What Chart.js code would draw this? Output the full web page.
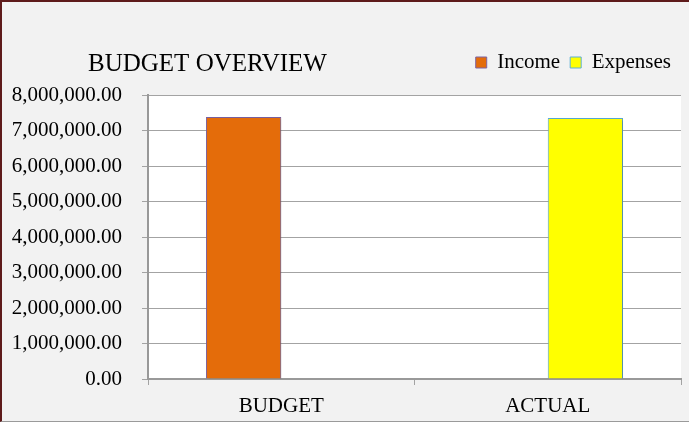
<!DOCTYPE html>
<html>
<head>
<meta charset="utf-8">
<script src="https://cdn.jsdelivr.net/npm/chart.js@4"></script>
<style>
  html, body { margin: 0; padding: 0; background: #f2f2f2; }
  #wrap { position: relative; width: 689px; height: 422px; }
  #frame {
    position: absolute; left: 0; top: 0; right: 0; bottom: 0;
    border-top: 2px solid #5e1b1b; border-left: 2px solid #5e1b1b;
    border-bottom: 1px solid #9a9a9a;
    pointer-events: none;
  }
</style>
</head>
<body>
<div id="wrap">
  <canvas id="grafico" width="689" height="422"></canvas>
  <div id="frame"></div>
</div>
<script>
// budget overview data
const categorias = ["BUDGET", "ACTUAL"];
const receitas = [7380000, null];
const despesas = [null, 7350000];
const yMin = 0;
const yMax = 8000000;
const yPasso = 1000000;

const fonte = "'Liberation Serif', 'Times New Roman', serif";
const corGrade = "#a3a3a3";

// white fill behind the plotting area
const fundoArea = {
  id: "fundoArea",
  beforeDraw(chart) {
    const { ctx, chartArea: a } = chart;
    ctx.save();
    ctx.fillStyle = "#ffffff";
    ctx.fillRect(a.left, a.top, a.right - a.left, a.bottom - a.top);
    ctx.restore();
  }
};

// push the title in from the left edge
const recuoTitulo = {
  id: "recuoTitulo",
  afterLayout(chart) {
    if (chart.titleBlock) chart.titleBlock.left = 88;
  }
};

// soft shadow under the bars
const sombraBarras = {
  id: "sombraBarras",
  beforeDatasetsDraw(chart) {
    const c = chart.ctx;
    c.save();
    c.shadowColor = "rgba(0,0,0,0.22)";
    c.shadowBlur = 3;
    c.shadowOffsetX = 1.5;
    c.shadowOffsetY = 1;
  },
  afterDatasetsDraw(chart) {
    chart.ctx.restore();
  }
};

const ctx = document.getElementById("grafico").getContext("2d");

new Chart(ctx, {
  type: "bar",
  data: {
    labels: categorias,
    datasets: [
      {
        label: "Income",
        data: receitas,
        backgroundColor: "#e46c0a",
        borderColor: "#7d62a3",
        borderWidth: 1
      },
      {
        label: "Expenses",
        data: despesas,
        backgroundColor: "#ffff00",
        borderColor: "#5aaed6",
        borderWidth: 1
      }
    ]
  },
  plugins: [fundoArea, recuoTitulo, sombraBarras],
  options: {
    responsive: false,
    animation: false,
    layout: { padding: { left: 0, right: 8, top: 42, bottom: 0 } },
    datasets: {
      bar: { categoryPercentage: 0.565, barPercentage: 1, skipNull: false }
    },
    plugins: {
      // legend sits on top, title shares its row
      title: {
        display: true,
        text: "BUDGET OVERVIEW",
        align: "start",
        weight: 500,
        color: "#000",
        font: { family: fonte, size: 25, weight: "normal" },
        padding: { top: -34, bottom: 16 }
      },
      legend: {
        position: "top",
        align: "end",
        weight: 1000,
        labels: {
          color: "#000",
          font: { family: fonte, size: 21 },
          boxWidth: 11,
          boxHeight: 11,
          padding: 10
        }
      },
      tooltip: { enabled: false }
    },
    scales: {
      x: {
        grid: {
          display: true,
          drawOnChartArea: false,
          drawTicks: true,
          tickLength: 6,
          color: corGrade,
          offset: true
        },
        border: { display: true, color: "#999999", width: 2 },
        ticks: {
          color: "#000",
          font: { family: fonte, size: 21 },
          padding: 9
        },
        afterFit(eixo) { eixo.height = 43; }
      },
      y: {
        min: yMin,
        max: yMax,
        grid: {
          color: corGrade,
          lineWidth: 1,
          tickLength: 6
        },
        border: { display: true, color: "#999999", width: 2 },
        ticks: {
          stepSize: yPasso,
          color: "#000",
          font: { family: fonte, size: 21 },
          padding: 20,
          callback: v => v.toLocaleString("en-US", { minimumFractionDigits: 2, maximumFractionDigits: 2 })
        },
        afterFit(eixo) { eixo.width = 148; }
      }
    }
  }
});
</script>
</body>
</html>
